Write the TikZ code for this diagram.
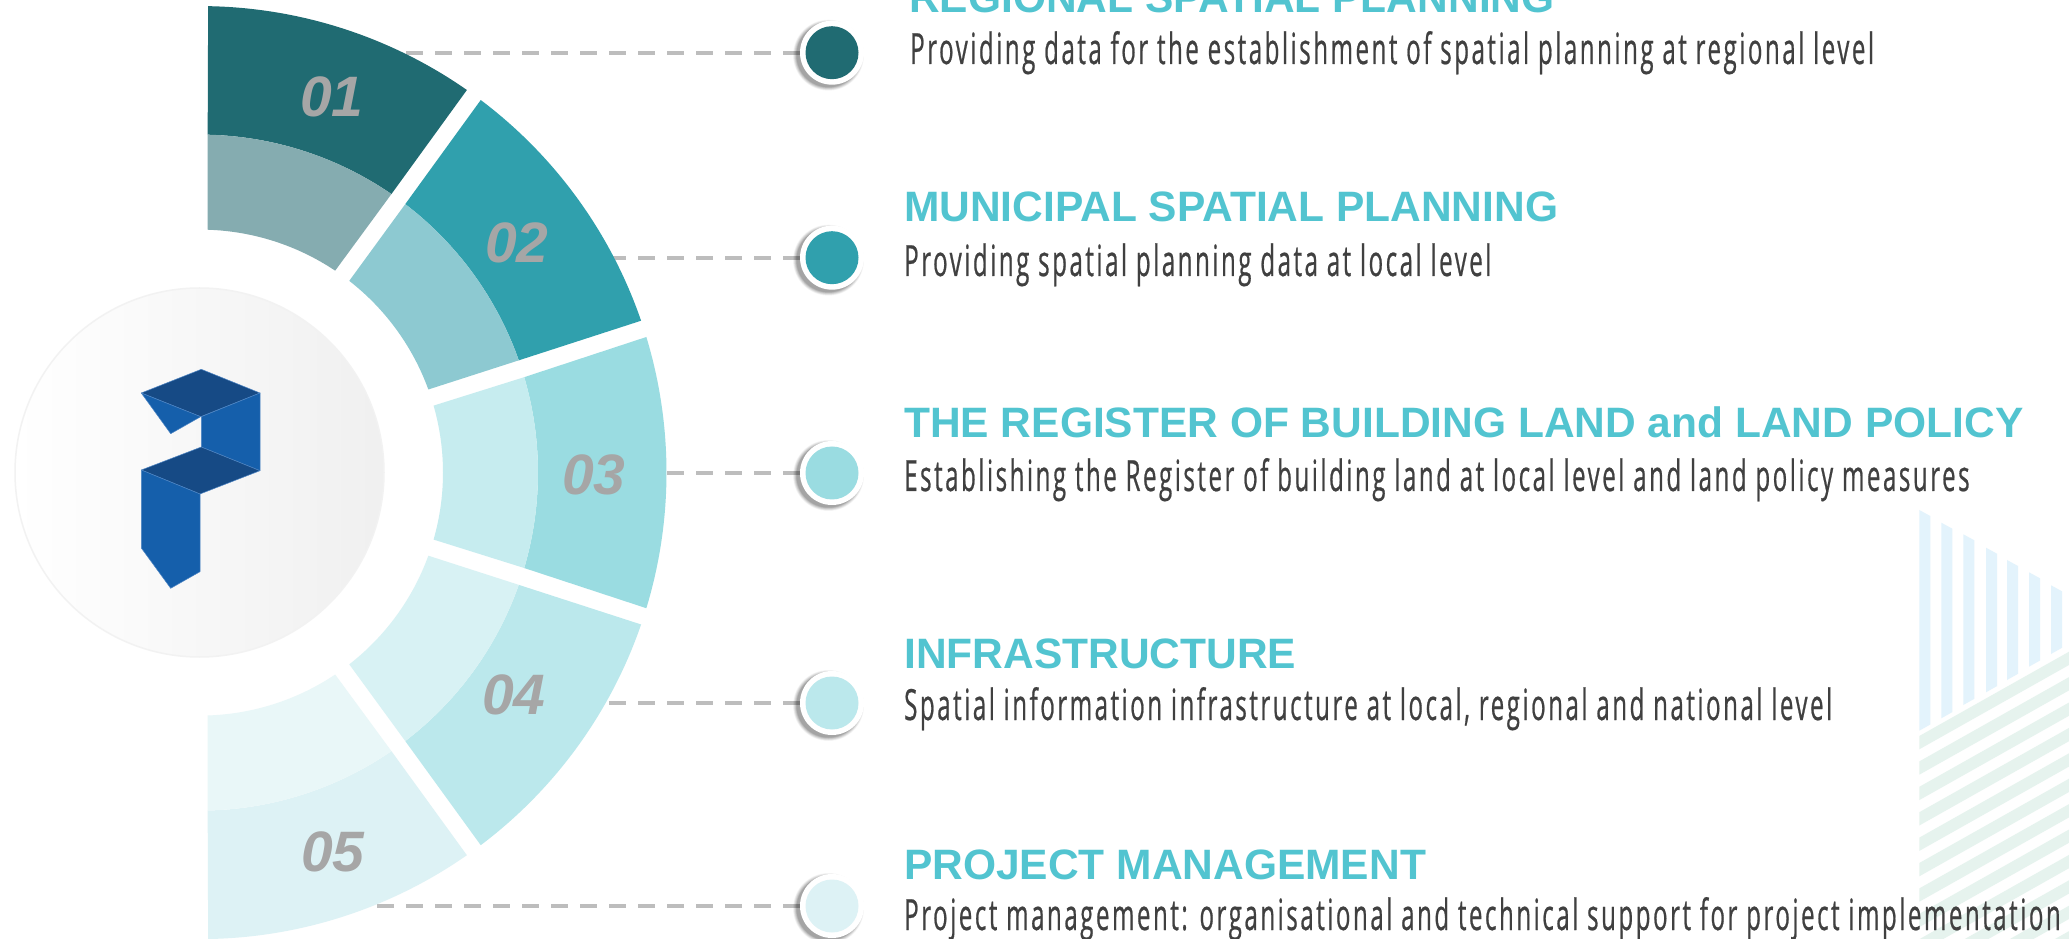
\documentclass[tikz,border=0pt]{standalone}
\usepackage{fontspec}
\setmainfont{Liberation Sans}
\newfontfamily\bodyfont[FakeStretch=0.56,LetterSpace=5.9,FakeBold=0.5]{Open Sans}
\usetikzlibrary{calc}
\definecolor{cA}{HTML}{206B72}\definecolor{cAi}{HTML}{85ACB0}
\definecolor{cB}{HTML}{30A0AD}\definecolor{cBi}{HTML}{8DC9D1}
\definecolor{cC}{HTML}{9ADCE1}\definecolor{cCi}{HTML}{C6ECEF}
\definecolor{cD}{HTML}{BBE8EC}\definecolor{cDi}{HTML}{D8F2F4}
\definecolor{cE}{HTML}{DDF2F5}\definecolor{cEi}{HTML}{E9F7F8}
\definecolor{titlecol}{HTML}{52C4D0}
\definecolor{bodycol}{HTML}{404040}
\definecolor{numcol}{HTML}{A6A6A6}
\definecolor{dashcol}{HTML}{BDBDBD}
\definecolor{logod}{HTML}{164A85}
\definecolor{logol}{HTML}{155FAB}
\definecolor{seam}{HTML}{4F86C4}
\definecolor{stripeb}{HTML}{E3F3FC}
\definecolor{stripeg}{HTML}{E6F3EE}
\newcommand\bandshape[7]{\fill[#1] (#3:#2) arc[start angle=#3,end angle=#4,radius=#2] -- (#7:#5) arc[start angle=#7,end angle=#6,radius=#5] -- cycle;}
\newcommand\dotshadow[1]{\foreach \rr/\op in {35.5/.03,35/.04,34.5/.04,34/.05,33.5/.05,33/.06,32.5/.07,32/.08}{\fill[black,opacity=\op] ($(#1)+(-3.5,-2.5)$) circle[radius=\rr];}}
\tikzset{
 x=1pt,y=1pt,
 ring/.style={circle,fill=white,minimum size=64pt,inner sep=0pt},
 core/.style={circle,minimum size=53pt,inner sep=0pt},
 leader/.style={draw=dashcol,line width=4pt,dash pattern=on 17pt off 12pt},
 titletext/.style={anchor=base west,inner sep=0pt,text=titlecol,font=\fontsize{42.5}{50}\selectfont\bfseries},
 bodytext/.style={anchor=base west,inner sep=0pt,text=bodycol,font=\fontsize{43}{50}\bodyfont},
 numtext/.style={inner sep=0pt,text=numcol,font=\fontsize{57}{60}\selectfont\bfseries\itshape},
 logoface/.style={fill=logol,draw=seam,line width=.5pt,line join=round},
 logotop/.style={fill=logod,draw=seam,line width=.5pt,line join=round},
}
\begin{document}
\begin{tikzpicture}[x=1pt,y=1pt]
\path[use as bounding box] (0,0) rectangle (2069,938);
\clip (0,0) rectangle (2069,938);
\fill[white] (0,0) rectangle (2069,938);
% background stripes
\begin{scope}
\clip (1919.3,0) rectangle (2069,938);
\foreach \k in {0,...,14}{
 \pgfmathsetmacro\ya{938-736-25.4*\k}
 \fill[stripeg] (1919.3,\ya) -- (2069,\ya+84.3) -- (2069,\ya+84.3-13.3) -- (1919.3,\ya-13.3) -- cycle;
}
\end{scope}
\foreach \xa/\yt/\yb in {1919.3/510/730.7,1941.3/522.7/718.3,1963.3/534.3/705,1986/547.7/692.3,2007/560/680,2029/572.3/666.7,2051/585.3/654}{
 \fill[stripeb] (\xa,938-\yt) -- (\xa+11,938-\yt-6) -- (\xa+11,938-\yb+6.2) -- (\xa,938-\yb) -- cycle;
}
% anchors
\coordinate (s1) at (404,885.3);
\coordinate (s2) at (613,680.3);
\coordinate (s3) at (666,465);
\coordinate (s4) at (606,235);
\coordinate (s5) at (373,32);
\node[ring] (d1) at (832,885.3) {};
\node[ring] (d2) at (832,680.3) {};
\node[ring] (d3) at (832,465) {};
\node[ring] (d4) at (832,235) {};
\node[ring] (d5) at (832,32) {};
% leaders
\foreach \i in {1,...,5}{ \draw[leader] (d\i.west) -- (s\i); }
% dots
\foreach \i/\col in {1/cA,2/cB,3/cC,4/cD,5/cE}{
 \dotshadow{d\i}
 \node[ring] at (d\i) {};
 \node[core,fill=\col] at (d\i) {};
}
% wedges
\begin{scope}[shift={(200,465.4)}]
\bandshape{cA}{466.5}{89}{55.1}{338}{88.7}{55.5}
\bandshape{cAi}{338}{88.7}{55.5}{243}{88.2}{56.2}
\bandshape{cB}{466.5}{53}{19}{338}{52.6}{19.4}
\bandshape{cBi}{338}{52.6}{19.4}{243}{52.1}{20}
\bandshape{cC}{466.5}{16.9}{-16.9}{338}{16.4}{-16.4}
\bandshape{cCi}{338}{16.4}{-16.4}{243}{16}{-16}
\bandshape{cD}{466.5}{-19}{-53}{338}{-19.4}{-52.6}
\bandshape{cDi}{338}{-19.4}{-52.6}{243}{-20}{-52.1}
\bandshape{cE}{466.5}{-55.1}{-89}{338}{-55.5}{-88.7}
\bandshape{cEi}{338}{-55.5}{-88.7}{243}{-56.2}{-88.2}
\end{scope}
\node[numtext] (n1) at (332,841) {01};
\node[numtext] (n2) at (517,695) {02};
\node[numtext] (n3) at (594,463) {03};
\node[numtext] (n4) at (514,243) {04};
\node[numtext] (n5) at (333,86) {05};
% centre disc
\node[circle,minimum size=369pt,inner sep=0pt,draw=black!5,line width=1.5pt,left color=white,right color=black!6] (disc) at (199.5,465.5) {};
% logo
\filldraw[logotop] (141.3,545) -- (201.3,568.7) -- (260,545) -- (200.7,521.3) -- cycle;
\filldraw[logoface] (201.3,521.3) -- (260,545) -- (260,467.3) -- (201.3,491) -- cycle;
\filldraw[logoface] (141.3,545) -- (200.7,521.3) -- (170.7,504.3) -- cycle;
\filldraw[logotop] (141.3,468) -- (201.3,491) -- (260,467.3) -- (200,444) -- cycle;
\filldraw[logoface] (141.3,468) -- (200,444) -- (200,366.3) -- (170.7,349.7) -- (141.3,390) -- cycle;
% text
\node[titletext] (t1) at (909,925) {REGIONAL SPATIAL PLANNING};
\node[bodytext] (b1) at (910,874) {Providing data for the establishment of spatial planning at regional level};
\node[titletext] (t2) at (904,716) {MUNICIPAL SPATIAL PLANNING};
\node[bodytext] (b2) at (904,662) {Providing spatial planning data at local level};
\node[titletext] (t3) at (904,500) {THE REGISTER OF BUILDING LAND and LAND POLICY};
\node[bodytext] (b3) at (904,447) {Establishing the Register of building land at local level and land policy measures};
\node[titletext] (t4) at (904,270) {INFRASTRUCTURE};
\node[bodytext] (b4) at (904,218) {Spatial information infrastructure at local, regional and national level};
\node[titletext] (t5) at (904,59) {PROJECT MANAGEMENT};
\node[bodytext] (b5) at (904,8) {Project management: organisational and technical support for project implementation};
\end{tikzpicture}
\end{document}
